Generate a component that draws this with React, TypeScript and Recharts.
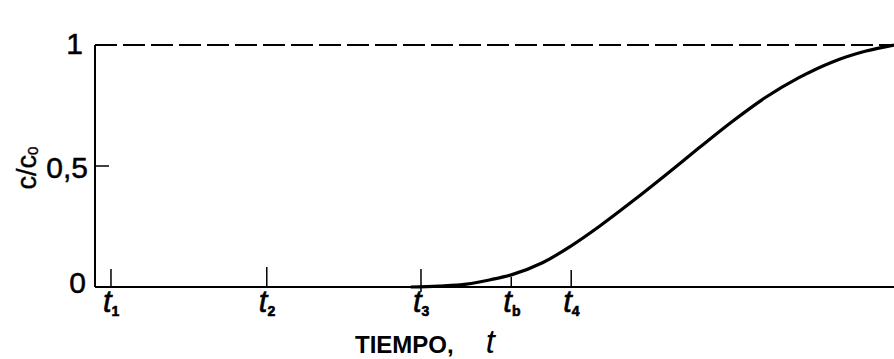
import React from 'react';
import {
	ComposedChart,
	Line,
	XAxis,
	YAxis,
	ReferenceLine,
} from 'recharts';

// breakthrough curve, c/c0 vs time (arbitrary time units 0..100)
const timeValues = [39.5, 43, 46.5, 49.5, 52.1, 56, 59.6, 63.1, 67.3, 71.5, 75.6, 79.8, 84, 88.1, 92.3, 96.5, 100];
const concValues = [0, 0.004, 0.012, 0.03, 0.05, 0.1, 0.17, 0.25, 0.355, 0.465, 0.575, 0.685, 0.785, 0.865, 0.93, 0.975, 1.0];

const timeTicks = [2, 21.5, 40.8, 52.1, 59.6];
const timeTickSubs = ['1', '2', '3', 'b', '4'];
const timeTickLen = [18, 20, 18, 10, 17];

const concTicks = [0, 0.5, 1];
const concTickLabels = ['0', '0,5', '1'];

const curveData = timeValues.map((t, i) => ({ t, c: concValues[i] }));

const FONT = '"Liberation Sans", Arial, sans-serif';

const TimeTick = (props) => {
	const { x, y, index } = props;
	const len = timeTickLen[index];
	return (
		<g>
			<line x1={x} y1={y} x2={x} y2={y - len} stroke="#000" strokeWidth={1.5} />
			{index === 2 && <line x1={x} y1={y} x2={x} y2={y + 5} stroke="#000" strokeWidth={1.5} />}
			<text
				x={x - 8}
				y={y + 25}
				fontFamily={FONT}
				fontStyle="italic"
				fontSize={31}
				fill="#000"
				stroke="#000"
				strokeWidth={0.6}
			>
				t
				<tspan dx={0} dy={4} fontSize={14} fontStyle="normal" fontWeight="bold">
					{timeTickSubs[index]}
				</tspan>
			</text>
		</g>
	);
};

const ConcTick = (props) => {
	const { x, y, index } = props;
	const dyFix = [-5, 1, -2][index];
	const dxFix = [-9, -7, -12][index];
	return (
		<g>
			{index === 1 && <line x1={x} y1={y} x2={x + 14} y2={y} stroke="#000" strokeWidth={1.5} />}
			<text
				x={x + dxFix}
				y={y + dyFix}
				textAnchor="end"
				dominantBaseline="central"
				fontFamily={FONT}
				fontSize={30}
				fill="#000"
				stroke="#000"
				strokeWidth={0.5}
			>
				{concTickLabels[index]}
			</text>
		</g>
	);
};

const YLabel = (props) => {
	const vb = props.viewBox;
	const cx = vb.x + vb.width - 68;
	const cy = vb.y + vb.height / 2 + 2;
	return (
		<text
			x={cx}
			y={cy}
			transform={`rotate(-90, ${cx}, ${cy})`}
			textAnchor="middle"
			dominantBaseline="central"
			fontFamily={FONT}
			fontSize={27}
			fill="#000"
			stroke="#000"
			strokeWidth={0.4}
		>
			c/c
			<tspan dy={5} fontSize={15}>
				0
			</tspan>
		</text>
	);
};

const XLabel = (props) => {
	const vb = props.viewBox;
	return (
		<text x={vb.x + 260} y={vb.y + 66} fontFamily={FONT} fill="#000">
			<tspan fontSize={24} fontWeight="bold">
				TIEMPO,
			</tspan>
			<tspan dx={32} fontSize={33} fontStyle="italic">
				t
			</tspan>
		</text>
	);
};

export default function App() {
	return (
		<div style={{ position: 'absolute', left: 0, top: 0, background: '#fff' }}>
			<ComposedChart
				width={894}
				height={359}
				data={curveData}
				margin={{ top: 45, right: 0, bottom: 42, left: 55 }}
			>
				<XAxis
					dataKey="t"
					type="number"
					domain={[0, 100]}
					ticks={timeTicks}
					interval={0}
					height={30}
					tickSize={0}
					tickMargin={0}
					tick={<TimeTick />}
					axisLine={{ stroke: '#000', strokeWidth: 2 }}
					label={<XLabel />}
					allowDataOverflow
				/>
				<YAxis
					type="number"
					domain={[0, 1]}
					ticks={concTicks}
					interval={0}
					width={40}
					tickSize={0}
					tickMargin={0}
					tick={<ConcTick />}
					axisLine={{ stroke: '#000', strokeWidth: 2 }}
					label={<YLabel />}
				/>
				<ReferenceLine y={1} stroke="#000" strokeWidth={2} strokeDasharray="22 6" />
				<Line
					dataKey="c"
					type="monotone"
					stroke="#000"
					strokeWidth={3.2}
					dot={false}
					isAnimationActive={false}
				/>
			</ComposedChart>
		</div>
	);
}
